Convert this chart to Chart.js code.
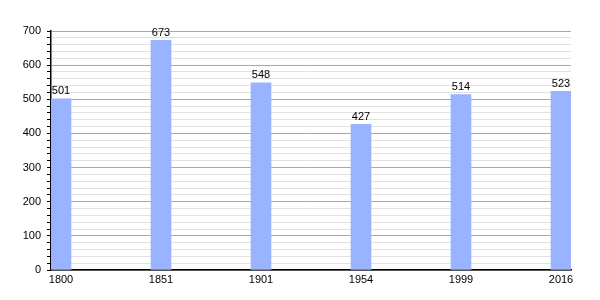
<!DOCTYPE html>
<html>
<head>
<meta charset="utf-8">
<script src="https://cdn.jsdelivr.net/npm/chart.js@4"></script>
<style>
	html, body { margin:0; padding:0; background:#fff; }
	#wrap { position:relative; width:600px; height:300px; }
</style>
</head>
<body>
<div id="wrap"><canvas id="c"></canvas></div>
<script>
const annees = ['1800', '1851', '1901', '1954', '1999', '2016']
const population = [501, 673, 548, 427, 514, 523]
const yMax = 700

// valeurs au-dessus des barres
const etiquettes = {
	id: 'etiquettes',
	afterDatasetsDraw(chart) {
		const ctx = chart.ctx
		ctx.save()
		ctx.font = '11px "Liberation Sans", Arial, sans-serif'
		ctx.fillStyle = '#000'
		ctx.textAlign = 'center'
		ctx.textBaseline = 'bottom'
		chart.getDatasetMeta(0).data.forEach((b, i) => {
			ctx.fillText(population[i], b.x, b.y - 2)
		})
		ctx.restore()
	}
}

new Chart(document.getElementById('c'), {
	type: 'bar',
	data: {
		datasets: [{
			data: population.map((v, i) => ({ x: i, y: v })),
			backgroundColor: '#99b3ff',
			borderWidth: 0,
			barThickness: 20,
		}]
	},
	options: {
		responsive: true,
		maintainAspectRatio: false,
		animation: false,
		layout: { padding: { left: 0, right: 29, top: 31, bottom: 0 } },
		plugins: {
			legend: { display: false },
			tooltip: { enabled: false },
		},
		scales: {
			x: {
				type: 'linear',
				min: -0.1,
				max: 5.1,
				offset: false,
				afterBuildTicks: s => { s.ticks = annees.map((a, i) => ({ value: i })) },
				afterFit: s => { s.height = 30 },
				grid: { display: false, drawTicks: false, offset: false },
				border: { color: '#000', width: 1.5 },
				ticks: {
					color: '#000',
					font: { size: 11, family: '"Liberation Sans", Arial, sans-serif' },
					padding: 3,
					maxRotation: 0,
					autoSkip: false,
					callback: v => annees[v],
				}
			},
			y: {
				min: 0,
				max: yMax,
				afterFit: s => { s.width = 51 },
				border: { color: '#000', width: 1.5 },
				grid: {
					color: c => c.tick.value % 100 == 0 ? '#a8a8a8' : '#e2e2e2',
					tickColor: '#000',
					tickLength: 4,
				},
				ticks: {
					stepSize: 20,
					color: '#000',
					font: { size: 11, family: '"Liberation Sans", Arial, sans-serif' },
					padding: 6,
					autoSkip: false,
					callback: v => v % 100 == 0 ? v : '',
				}
			}
		}
	},
	plugins: [etiquettes]
})
</script>
</body>
</html>
